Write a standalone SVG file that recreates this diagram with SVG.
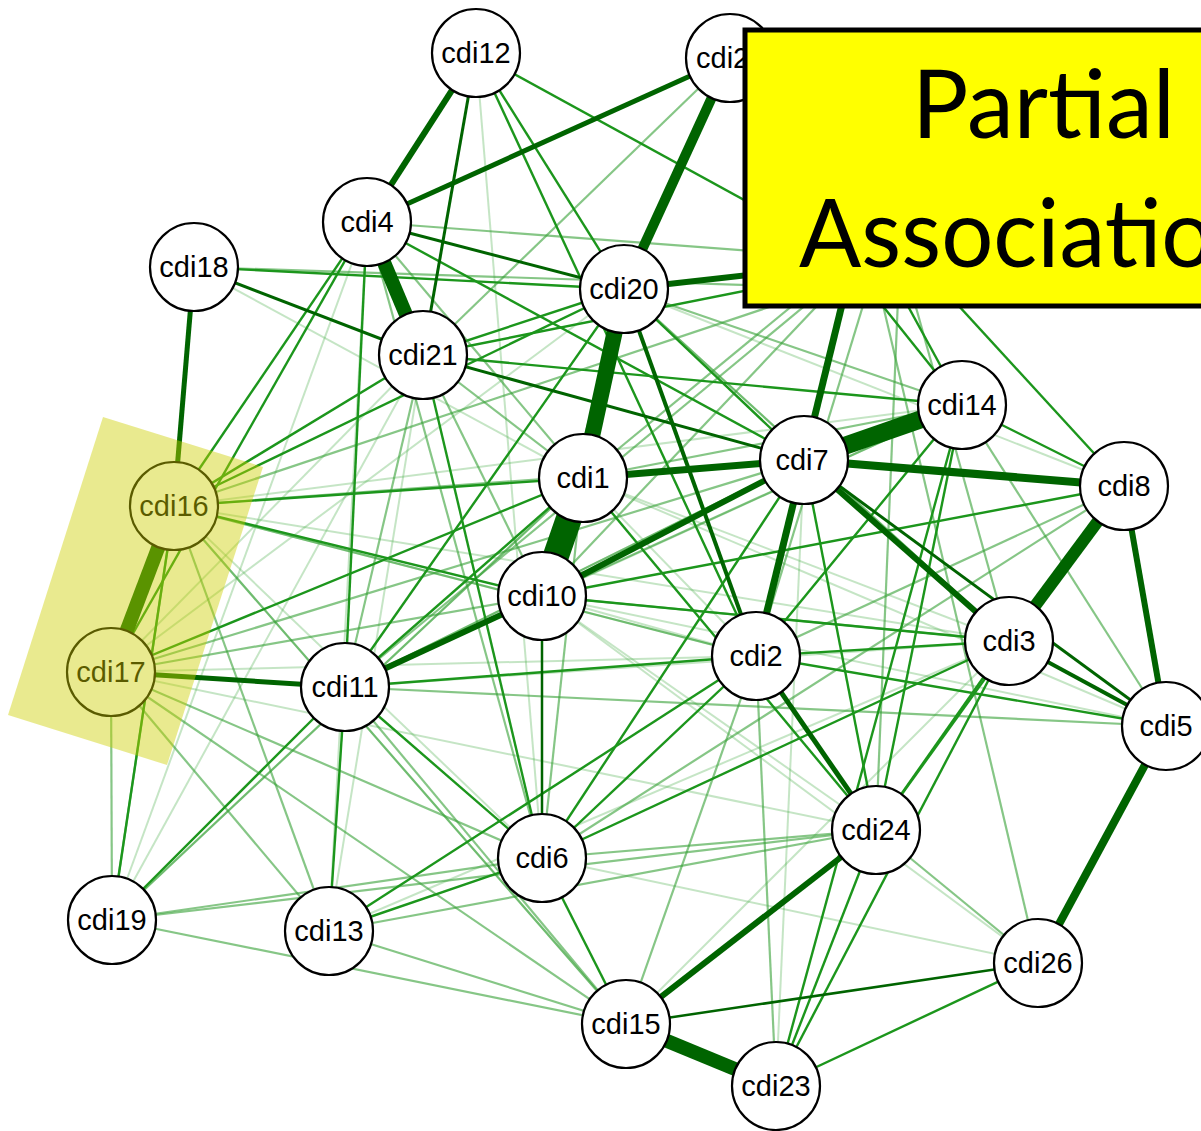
<svg xmlns="http://www.w3.org/2000/svg" width="1201" height="1131" viewBox="0 0 1201 1131">
<style>
.v{stroke:#4cae4c;stroke-opacity:.32;stroke-width:2;fill:none}
.l{stroke:#35a035;stroke-opacity:.6;stroke-width:2.2;fill:none}
.m{stroke:#1c961c;stroke-width:2.4;fill:none}
.d{stroke:#006400;fill:none}
.node circle{fill:#fff;stroke:#000;stroke-width:2.2}
.node text{font-family:"Liberation Sans",Arial,sans-serif;font-size:29px;text-anchor:middle;fill:#000}
.title{font-family:Lato,"Open Sans",sans-serif;font-size:95px;fill:#000}
</style>
<rect width="1201" height="1131" fill="#fff"/>
<g id="edges">
<!-- very light -->
<line class="v" x1="476" y1="53" x2="542" y2="858"/>
<line class="v" x1="194" y1="267" x2="583" y2="478"/>
<line class="v" x1="367" y1="222" x2="112" y2="920"/>
<line class="v" x1="367" y1="222" x2="329" y2="931"/>
<line class="v" x1="423" y1="355" x2="329" y2="931"/>
<line class="v" x1="423" y1="355" x2="111" y2="672"/>
<line class="v" x1="624" y1="289" x2="111" y2="672"/>
<line class="v" x1="174" y1="506" x2="1009" y2="641"/>
<line class="v" x1="174" y1="506" x2="756" y2="656"/>
<line class="v" x1="111" y1="672" x2="756" y2="656"/>
<line class="v" x1="111" y1="672" x2="876" y2="830"/>
<line class="v" x1="112" y1="920" x2="423" y2="355"/>
<line class="v" x1="112" y1="920" x2="583" y2="478"/>
<line class="v" x1="345" y1="687" x2="1009" y2="641"/>
<line class="v" x1="345" y1="687" x2="804" y2="460"/>
<line class="v" x1="329" y1="931" x2="1009" y2="641"/>
<line class="v" x1="626" y1="1024" x2="1009" y2="641"/>
<line class="v" x1="626" y1="1024" x2="174" y2="506"/>
<line class="v" x1="583" y1="478" x2="1009" y2="641"/>
<line class="v" x1="583" y1="478" x2="1166" y2="726"/>
<line class="v" x1="542" y1="596" x2="756" y2="656"/>
<line class="v" x1="542" y1="596" x2="1166" y2="726"/>
<line class="v" x1="542" y1="596" x2="876" y2="830"/>
<line class="v" x1="756" y1="656" x2="583" y2="478"/>
<line class="v" x1="962" y1="405" x2="174" y2="506"/>
<line class="v" x1="962" y1="405" x2="345" y2="687"/>
<line class="v" x1="1009" y1="641" x2="624" y2="289"/>
<line class="v" x1="542" y1="858" x2="1038" y2="963"/>
<line class="v" x1="776" y1="1086" x2="804" y2="460"/>
<line class="v" x1="624" y1="289" x2="1124" y2="486"/>
<line class="v" x1="174" y1="506" x2="542" y2="858"/>
<line class="v" x1="1038" y1="963" x2="542" y2="596"/>
<!-- light -->
<line class="l" x1="730" y1="58" x2="423" y2="355"/>
<line class="l" x1="367" y1="222" x2="900" y2="262"/>
<line class="l" x1="194" y1="267" x2="900" y2="290"/>
<line class="l" x1="367" y1="222" x2="583" y2="478"/>
<line class="l" x1="367" y1="222" x2="542" y2="858"/>
<line class="l" x1="423" y1="355" x2="345" y2="687"/>
<line class="l" x1="423" y1="355" x2="542" y2="596"/>
<line class="l" x1="624" y1="289" x2="542" y2="596"/>
<line class="l" x1="624" y1="289" x2="1009" y2="641"/>
<line class="l" x1="624" y1="289" x2="962" y2="405"/>
<line class="l" x1="174" y1="506" x2="804" y2="460"/>
<line class="l" x1="174" y1="506" x2="626" y2="1024"/>
<line class="l" x1="174" y1="506" x2="329" y2="931"/>
<line class="l" x1="174" y1="506" x2="112" y2="920"/>
<line class="l" x1="111" y1="672" x2="112" y2="920"/>
<line class="l" x1="111" y1="672" x2="329" y2="931"/>
<line class="l" x1="111" y1="672" x2="542" y2="858"/>
<line class="l" x1="111" y1="672" x2="626" y2="1024"/>
<line class="l" x1="112" y1="920" x2="542" y2="858"/>
<line class="l" x1="112" y1="920" x2="626" y2="1024"/>
<line class="l" x1="112" y1="920" x2="876" y2="830"/>
<line class="l" x1="329" y1="931" x2="626" y2="1024"/>
<line class="l" x1="329" y1="931" x2="876" y2="830"/>
<line class="l" x1="345" y1="687" x2="626" y2="1024"/>
<line class="l" x1="345" y1="687" x2="1166" y2="726"/>
<line class="l" x1="626" y1="1024" x2="756" y2="656"/>
<line class="l" x1="776" y1="1086" x2="756" y2="656"/>
<line class="l" x1="876" y1="830" x2="542" y2="858"/>
<line class="l" x1="876" y1="830" x2="1038" y2="963"/>
<line class="l" x1="1038" y1="963" x2="870" y2="250"/>
<line class="l" x1="1166" y1="726" x2="962" y2="405"/>
<line class="l" x1="1124" y1="486" x2="756" y2="656"/>
<line class="l" x1="1124" y1="486" x2="542" y2="858"/>
<line class="l" x1="962" y1="405" x2="583" y2="478"/>
<line class="l" x1="962" y1="405" x2="542" y2="596"/>
<line class="l" x1="1009" y1="641" x2="542" y2="596"/>
<line class="l" x1="756" y1="656" x2="174" y2="506"/>
<line class="l" x1="804" y1="460" x2="111" y2="672"/>
<line class="l" x1="804" y1="460" x2="345" y2="687"/>
<line class="l" x1="583" y1="478" x2="542" y2="858"/>
<line class="l" x1="583" y1="478" x2="112" y2="920"/>
<line class="l" x1="583" y1="478" x2="423" y2="355"/>
<line class="l" x1="542" y1="596" x2="111" y2="672"/>
<line class="l" x1="876" y1="830" x2="900" y2="250"/>
<line class="l" x1="756" y1="656" x2="880" y2="250"/>
<line class="l" x1="1009" y1="641" x2="900" y2="250"/>
<line class="l" x1="583" y1="478" x2="860" y2="250"/>
<line class="l" x1="542" y1="596" x2="870" y2="250"/>
<line class="l" x1="345" y1="687" x2="860" y2="260"/>
<line class="l" x1="174" y1="506" x2="880" y2="270"/>
<!-- medium -->
<line class="m" x1="476" y1="53" x2="624" y2="289"/>
<line class="m" x1="476" y1="53" x2="756" y2="656"/>
<line class="m" x1="476" y1="53" x2="850" y2="258"/>
<line class="m" x1="367" y1="222" x2="174" y2="506"/>
<line class="m" x1="367" y1="222" x2="111" y2="672"/>
<line class="m" x1="367" y1="222" x2="345" y2="687"/>
<line class="m" x1="367" y1="222" x2="804" y2="460"/>
<line class="m" x1="194" y1="267" x2="624" y2="289"/>
<line class="m" x1="423" y1="355" x2="624" y2="289"/>
<line class="m" x1="423" y1="355" x2="900" y2="260"/>
<line class="m" x1="423" y1="355" x2="962" y2="405"/>
<line class="m" x1="423" y1="355" x2="174" y2="506"/>
<line class="m" x1="423" y1="355" x2="542" y2="858"/>
<line class="m" x1="624" y1="289" x2="804" y2="460"/>
<line class="m" x1="624" y1="289" x2="345" y2="687"/>
<line class="m" x1="624" y1="289" x2="174" y2="506"/>
<line class="m" x1="174" y1="506" x2="583" y2="478"/>
<line class="m" x1="174" y1="506" x2="542" y2="596"/>
<line class="m" x1="111" y1="672" x2="583" y2="478"/>
<line class="m" x1="345" y1="687" x2="756" y2="656"/>
<line class="m" x1="345" y1="687" x2="329" y2="931"/>
<line class="m" x1="345" y1="687" x2="112" y2="920"/>
<line class="m" x1="345" y1="687" x2="542" y2="858"/>
<line class="m" x1="345" y1="687" x2="583" y2="478"/>
<line class="m" x1="542" y1="858" x2="756" y2="656"/>
<line class="m" x1="542" y1="858" x2="1009" y2="641"/>
<line class="m" x1="542" y1="858" x2="626" y2="1024"/>
<line class="m" x1="542" y1="858" x2="329" y2="931"/>
<line class="m" x1="329" y1="931" x2="756" y2="656"/>
<line class="m" x1="112" y1="920" x2="174" y2="506"/>
<line class="m" x1="776" y1="1086" x2="876" y2="830"/>
<line class="m" x1="776" y1="1086" x2="1009" y2="641"/>
<line class="m" x1="776" y1="1086" x2="1038" y2="963"/>
<line class="m" x1="876" y1="830" x2="804" y2="460"/>
<line class="m" x1="876" y1="830" x2="962" y2="405"/>
<line class="m" x1="876" y1="830" x2="1009" y2="641"/>
<line class="m" x1="876" y1="830" x2="1124" y2="486"/>
<line class="m" x1="1166" y1="726" x2="756" y2="656"/>
<line class="m" x1="1124" y1="486" x2="962" y2="405"/>
<line class="m" x1="1124" y1="486" x2="880" y2="220"/>
<line class="m" x1="1124" y1="486" x2="542" y2="596"/>
<line class="m" x1="962" y1="405" x2="850" y2="200"/>
<line class="m" x1="962" y1="405" x2="830" y2="240"/>
<line class="m" x1="962" y1="405" x2="776" y2="1086"/>
<line class="m" x1="962" y1="405" x2="756" y2="656"/>
<line class="m" x1="1009" y1="641" x2="756" y2="656"/>
<line class="m" x1="804" y1="460" x2="542" y2="858"/>
<line class="m" x1="583" y1="478" x2="876" y2="830"/>
<line class="m" x1="542" y1="596" x2="1009" y2="641"/>
<!-- dark -->
<line class="d" stroke-width="6" x1="476" y1="53" x2="367" y2="222"/>
<line class="d" stroke-width="3" x1="476" y1="53" x2="423" y2="355"/>
<line class="d" stroke-width="5" x1="730" y1="58" x2="367" y2="222"/>
<line class="d" stroke-width="10" x1="730" y1="58" x2="624" y2="289"/>
<line class="d" stroke-width="14" x1="367" y1="222" x2="423" y2="355"/>
<line class="d" stroke-width="5" x1="194" y1="267" x2="174" y2="506"/>
<line class="d" stroke-width="3" x1="194" y1="267" x2="423" y2="355"/>
<line class="d" stroke-width="3" x1="367" y1="222" x2="624" y2="289"/>
<line class="d" stroke-width="6" x1="624" y1="289" x2="900" y2="258"/>
<line class="d" stroke-width="3" x1="423" y1="355" x2="804" y2="460"/>
<line class="d" stroke-width="4" x1="624" y1="289" x2="756" y2="656"/>
<line class="d" stroke-width="16" x1="624" y1="289" x2="583" y2="478"/>
<line class="d" stroke-width="26" x1="583" y1="478" x2="542" y2="596"/>
<line class="d" stroke-width="7" x1="583" y1="478" x2="804" y2="460"/>
<line class="d" stroke-width="6" x1="542" y1="596" x2="804" y2="460"/>
<line class="d" stroke-width="6" x1="542" y1="596" x2="345" y2="687"/>
<line class="d" stroke-width="2.5" x1="542" y1="596" x2="542" y2="858"/>
<line class="d" stroke-width="5" x1="111" y1="672" x2="345" y2="687"/>
<line class="d" stroke-width="14" x1="174" y1="506" x2="111" y2="672"/>
<line class="d" stroke-width="18" x1="804" y1="460" x2="962" y2="405"/>
<line class="d" stroke-width="8" x1="804" y1="460" x2="1124" y2="486"/>
<line class="d" stroke-width="7" x1="804" y1="460" x2="870" y2="190"/>
<line class="d" stroke-width="7" x1="804" y1="460" x2="756" y2="656"/>
<line class="d" stroke-width="6" x1="804" y1="460" x2="1009" y2="641"/>
<line class="d" stroke-width="3" x1="804" y1="460" x2="1166" y2="726"/>
<line class="d" stroke-width="12" x1="1124" y1="486" x2="1009" y2="641"/>
<line class="d" stroke-width="6" x1="1124" y1="486" x2="1166" y2="726"/>
<line class="d" stroke-width="8" x1="1166" y1="726" x2="1038" y2="963"/>
<line class="d" stroke-width="4" x1="1009" y1="641" x2="1166" y2="726"/>
<line class="d" stroke-width="5" x1="756" y1="656" x2="876" y2="830"/>
<line class="d" stroke-width="6" x1="876" y1="830" x2="626" y2="1024"/>
<line class="d" stroke-width="14" x1="626" y1="1024" x2="776" y2="1086"/>
<line class="d" stroke-width="2.5" x1="626" y1="1024" x2="1038" y2="963"/>
</g>
<g id="cdi12" class="node"><circle cx="476" cy="53" r="44"/><text x="476" y="63">cdi12</text></g>
<g id="cdi2x" class="node"><circle cx="730" cy="58" r="44"/><text x="696" y="68" style="text-anchor:start">cdi2</text></g>
<g id="cdi4" class="node"><circle cx="367" cy="222" r="44"/><text x="367" y="232">cdi4</text></g>
<g id="cdi18" class="node"><circle cx="194" cy="267" r="44"/><text x="194" y="277">cdi18</text></g>
<g id="cdi20" class="node"><circle cx="624" cy="289" r="44"/><text x="624" y="299">cdi20</text></g>
<g id="cdi21" class="node"><circle cx="423" cy="355" r="44"/><text x="423" y="365">cdi21</text></g>
<g id="cdi14" class="node"><circle cx="962" cy="405" r="44"/><text x="962" y="415">cdi14</text></g>
<g id="cdi7" class="node"><circle cx="804" cy="460" r="44"/><text x="802" y="470">cdi7</text></g>
<g id="cdi1" class="node"><circle cx="583" cy="478" r="44"/><text x="583" y="488">cdi1</text></g>
<g id="cdi8" class="node"><circle cx="1124" cy="486" r="44"/><text x="1124" y="496">cdi8</text></g>
<g id="cdi16" class="node"><circle cx="174" cy="506" r="44"/><text x="174" y="516">cdi16</text></g>
<g id="cdi10" class="node"><circle cx="542" cy="596" r="44"/><text x="542" y="606">cdi10</text></g>
<g id="cdi3" class="node"><circle cx="1009" cy="641" r="44"/><text x="1009" y="651">cdi3</text></g>
<g id="cdi2" class="node"><circle cx="756" cy="656" r="44"/><text x="756" y="666">cdi2</text></g>
<g id="cdi17" class="node"><circle cx="111" cy="672" r="44"/><text x="111" y="682">cdi17</text></g>
<g id="cdi11" class="node"><circle cx="345" cy="687" r="44"/><text x="345" y="697">cdi11</text></g>
<g id="cdi5" class="node"><circle cx="1166" cy="726" r="44"/><text x="1166" y="736">cdi5</text></g>
<g id="cdi24" class="node"><circle cx="876" cy="830" r="44"/><text x="876" y="840">cdi24</text></g>
<g id="cdi6" class="node"><circle cx="542" cy="858" r="44"/><text x="542" y="868">cdi6</text></g>
<g id="cdi19" class="node"><circle cx="112" cy="920" r="44"/><text x="112" y="930">cdi19</text></g>
<g id="cdi13" class="node"><circle cx="329" cy="931" r="44"/><text x="329" y="941">cdi13</text></g>
<g id="cdi26" class="node"><circle cx="1038" cy="963" r="44"/><text x="1038" y="973">cdi26</text></g>
<g id="cdi15" class="node"><circle cx="626" cy="1024" r="44"/><text x="626" y="1034">cdi15</text></g>
<g id="cdi23" class="node"><circle cx="776" cy="1086" r="44"/><text x="776" y="1096">cdi23</text></g>
<polygon id="highlight" points="103,417 263,467 167,765 8,715" fill="rgb(204,207,0)" fill-opacity="0.44"/>
<g id="title">
<rect x="745" y="30" width="480" height="276" fill="#ffff00" stroke="#000" stroke-width="5"/>
<text class="title" x="912" y="138" textLength="263" lengthAdjust="spacingAndGlyphs">Partial</text>
<text class="title" x="799" y="267" textLength="466" lengthAdjust="spacingAndGlyphs">Association</text>
</g>
</svg>
